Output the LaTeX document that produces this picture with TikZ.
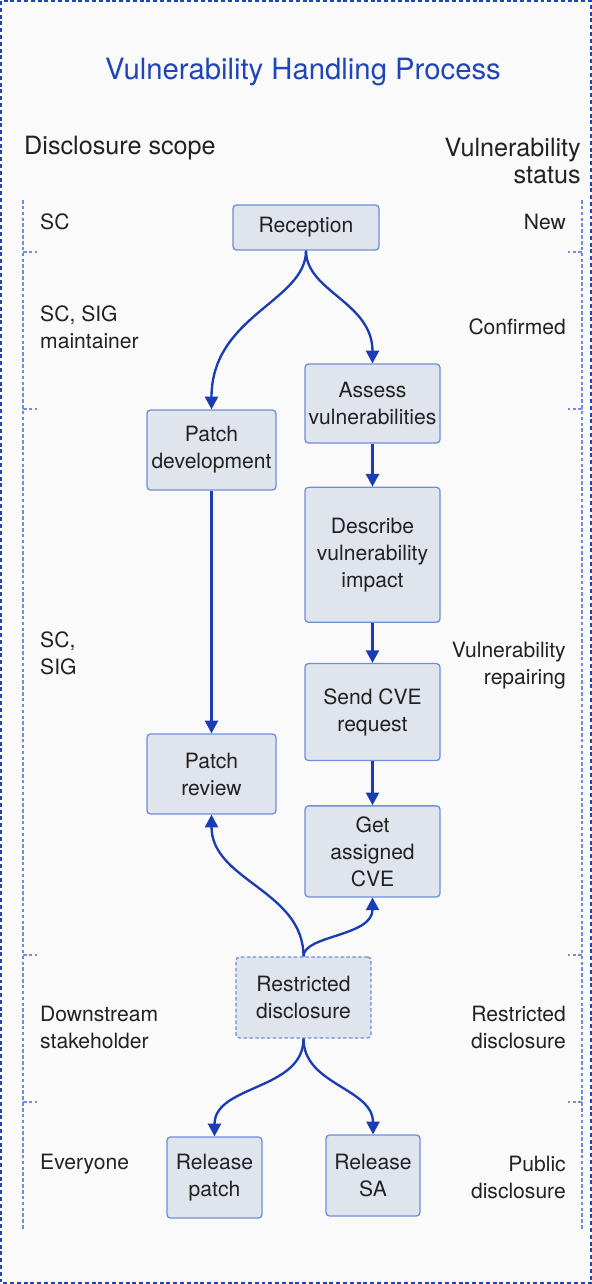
\documentclass[tikz,border=0pt]{standalone}
\usepackage{fontspec}
\setmainfont{TeX Gyre Heros}
\usetikzlibrary{positioning, arrows.meta}
\definecolor{pagebg}{HTML}{FAFAFB}
\definecolor{framecol}{HTML}{1F45B8}
\definecolor{boxfill}{HTML}{E0E4ED}
\definecolor{boxline}{HTML}{6D8FD8}
\definecolor{flowcol}{HTML}{1A3DB4}
\definecolor{scalecol}{HTML}{6F8FDC}
\definecolor{textcol}{HTML}{222222}
\newcommand{\bodyfont}{\fontsize{18}{23}\selectfont}
\tikzset{
  > = {Triangle[length = 3.8mm, width = 3.9mm]},
  stage/.style = {draw = boxline, fill = boxfill, line width = 1.1pt,
    rounded corners = 3pt, align = center, inner sep = 0pt,
    text = textcol, font = \bodyfont, minimum width = 4.05cm},
  narrow/.style = {stage, minimum width = 3.87cm, minimum height = 2.4cm},
  pending/.style = {stage, dashed, dash pattern = on 3pt off 2pt},
  flow/.style = {->, draw = flowcol, line width = 2pt},
  scope label/.style = {anchor = west, align = left, text = textcol,
    font = \bodyfont, inner sep = 0pt},
  status label/.style = {anchor = east, align = right, text = textcol,
    font = \bodyfont, inner sep = 0pt},
  ruler/.style = {draw = scalecol, line width = 2.4pt,
    dash pattern = on 3pt off 2pt}
}

\begin{document}
\begin{tikzpicture}[x = 0.03cm, y = -0.03cm]

% page and frame
\fill [pagebg] (0,0) rectangle (592,1284);
\useasboundingbox (0,0) rectangle (592,1284);
\draw [framecol, line width = 2pt, dash pattern = on 3.4pt off 2.4pt]
  (1,1) rectangle (591,1283);

\node [text = framecol, font = \fontsize{25}{28}\selectfont] (title)
  at (303,72) {Vulnerability Handling Process};

\node [scope label, font = \fontsize{21.5}{23}\selectfont] (scopehead)
  at (24,148) {Disclosure scope};
\node [status label, font = \fontsize{21.5}{23}\selectfont] (statushead)
  at (581,161) {Vulnerability\\status};

% rulers on both sides
\draw [ruler] (23,200) -- (23,1230);
\draw [ruler] (582,200) -- (582,1230);
\foreach \y in {252, 409, 955, 1102} {
  \draw [ruler] (23,\y) -- (37,\y);
  \draw [ruler] (582,\y) -- (568,\y);
}

% scope labels
\node [scope label] (sc) at (40,222) {SC};
\node [scope label] (scsigm) at (40,327) {SC, SIG\\maintainer};
\node [scope label] (scsig) at (40,653) {SC,\\SIG};
\node [scope label] (downstream) at (40,1027) {Downstream\\stakeholder};
\node [scope label] (everyone) at (40,1164) {Everyone};

% status labels
\node [status label] (new) at (566,222) {New};
\node [status label] (confirmed) at (566,327) {Confirmed};
\node [status label] (repairing) at (566,666) {Vulnerability\\repairing};
\node [status label] (restricted) at (566,1027) {Restricted\\disclosure};
\node [status label] (public) at (566,1177) {Public\\disclosure};

% process steps
\node [stage, minimum width = 4.38cm, minimum height = 1.35cm] (reception)
  at (306,227.5) {Reception};
\node [stage, minimum height = 2.37cm] (assess)
  at (372.5,403.5) {Assess\\vulnerabilities};
\node [stage, minimum height = 4.05cm] (describe)
  [below = 1.29cm of assess] {Describe\\vulnerability\\impact};
\node [stage, minimum height = 2.91cm] (request)
  [below = 1.2cm of describe] {Send CVE\\request};
\node [stage, minimum height = 2.73cm] (assigned)
  [below = 1.32cm of request] {Get\\assigned\\CVE};
\node [narrow] (patchdev) at (211.5,450) {Patch\\development};
\node [narrow] (patchrev) at (211.5,774) {Patch\\review};
\node [pending, minimum height = 2.43cm] (limited)
  at (303.5,997.5) {Restricted\\disclosure};
\node [stage, minimum width = 2.85cm, minimum height = 2.43cm] (relpatch)
  at (214.5,1177.5) {Release\\patch};
\node [stage, minimum width = 2.82cm, minimum height = 2.43cm] (relsa)
  at (373,1175.5) {Release\\SA};

% flows
\draw [flow] (reception.south) to [out = -90, in = 90, out looseness = 0.7,
  in looseness = 1.3] (patchdev.north);
\draw [flow] (reception.south) to [out = -90, in = 90, out looseness = 0.8,
  in looseness = 1.2] (assess.north);
\draw [flow] (assess) -- (describe);
\draw [flow] (describe) -- (request);
\draw [flow] (request) -- (assigned);
\draw [flow] (patchdev) -- (patchrev);
\draw [flow] (limited.north) to [out = 90, in = -90] (patchrev.south);
\draw [flow] (limited.north) to [out = 90, in = -90, out looseness = 0.6,
  in looseness = 1.1] (assigned.south);
\draw [flow] (limited.south) to [out = -90, in = 90] (relpatch.north);
\draw [flow] (limited.south) to [out = -90, in = 90] (relsa.north);

\end{tikzpicture}
\end{document}
